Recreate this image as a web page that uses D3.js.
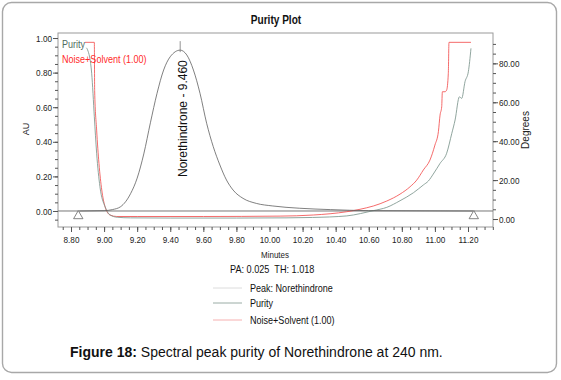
<!DOCTYPE html>
<html>
<head>
<meta charset="utf-8">
<script src="https://cdn.jsdelivr.net/npm/d3@7"></script>
<style>
  html, body { margin: 0; padding: 0; background: #fff; }
  svg { display: block; }
  text { font-family: "Liberation Sans", Arial, sans-serif; }
</style>
</head>
<body>
<svg id="chart" width="561" height="380"></svg>
<script>
// ---------------- data ----------------
const chartTitle = "Purity Plot";
const xTitle = "Minutes";
const yLeftTitle = "AU";
const yRightTitle = "Degrees";
const peakName = "Norethindrone";
const peakTime = 9.460;
const peakApex = 0.93;
const markerTimes = [8.844, 11.235];
const paText = "PA: 0.025  TH: 1.018";
const legendLabels = ["Peak: Norethindrone", "Purity", "Noise+Solvent (1.00)"];
const captionBold = "Figure 18:";
const captionText = " Spectral peak purity of Norethindrone at 240 nm.";

const xTickLabels = [8.80, 9.00, 9.20, 9.40, 9.60, 9.80, 10.00, 10.20, 10.40, 10.60, 10.80, 11.00, 11.20];
const auTickLabels = [0.00, 0.20, 0.40, 0.60, 0.80, 1.00];
const degTickLabels = [0, 20, 40, 60, 80];

// chromatogram (AU)
const chromTime = [8.85, 9.00, 9.05, 9.10, 9.16, 9.20, 9.24, 9.28, 9.32, 9.36, 9.40, 9.46, 9.50, 9.54, 9.58, 9.62, 9.66, 9.70, 9.74, 9.78, 9.84, 9.92, 10.02, 10.18, 10.37, 10.60, 11.23];
const chromAU   = [0.000, 0.002, 0.008, 0.025, 0.100, 0.190, 0.330, 0.510, 0.680, 0.815, 0.892, 0.930, 0.902, 0.815, 0.680, 0.507, 0.372, 0.266, 0.179, 0.121, 0.073, 0.044, 0.029, 0.016, 0.008, 0.002, 0.000];

// purity angle (degrees)
const purityTime = [8.893, 8.900, 8.925, 8.941, 8.955, 8.975, 9.006, 9.036, 9.080, 9.160, 9.400, 9.800, 10.100, 10.260, 10.467, 10.550, 10.628, 10.709, 10.789, 10.870, 10.930, 10.960, 10.990, 11.031, 11.071, 11.102, 11.122, 11.148, 11.162, 11.182, 11.202, 11.218];
const purityDeg  = [88.0, 87.0, 74.9, 52.6, 33.8, 16.6, 6.3, 2.1, 0.9, 0.6, 0.5, 0.5, 0.6, 0.8, 1.6, 2.8, 4.3, 6.0, 9.4, 13.5, 17.5, 19.5, 23.1, 28.6, 33.8, 44.0, 50.9, 62.8, 62.0, 70.6, 75.7, 87.7];

// noise + solvent threshold (degrees)
const noiseTime = [8.885, 8.941, 8.943, 8.955, 8.969, 8.986, 9.006, 9.036, 9.076, 9.200, 9.600, 10.064, 10.265, 10.467, 10.547, 10.628, 10.709, 10.789, 10.850, 10.890, 10.930, 10.970, 11.000, 11.021, 11.031, 11.041, 11.045, 11.061, 11.071, 11.081, 11.085, 11.218];
const noiseDeg  = [90.8, 90.8, 66.0, 45.7, 28.6, 14.9, 6.3, 2.06, 1.3, 1.3, 1.3, 1.5, 2.06, 3.75, 5.0, 6.7, 9.25, 12.8, 16.6, 20.0, 25.2, 30.3, 38.0, 44.9, 53.4, 57.7, 65.4, 65.4, 66.3, 74.9, 90.8, 90.8];

// ---------------- layout ----------------
const L = 58, R = 493, T = 33, B = 227;
const svg = d3.select("#chart");

// squeeze text horizontally to imitate the narrow font of the original
function condense(sel, f) {
  sel.each(function () {
    const w = this.getComputedTextLength();
    if (w > 0) d3.select(this).attr("textLength", w * f).attr("lengthAdjust", "spacingAndGlyphs");
  });
}

const x = d3.scaleLinear().domain([8.7214, 11.3511]).range([L, R]);
const yAU = d3.scaleLinear().domain([-0.0925, 1.029]).range([B, T]);
const yDeg = d3.scaleLinear().domain([-4.1, 95.6]).range([B, T]);

// outer frame
svg.append("rect").attr("x", 2.5).attr("y", 2.5).attr("width", 554).attr("height", 370)
  .attr("rx", 9).attr("fill", "#fff").attr("stroke", "#a8a8a8").attr("stroke-width", 1.4);

// title
svg.append("text").attr("x", 276).attr("y", 24)
  .attr("text-anchor", "middle").attr("font-size", 12).attr("font-weight", "bold")
  .attr("fill", "#111").text(chartTitle).call(condense, 0.84);

// plot frame
svg.append("rect").attr("x", L).attr("y", T).attr("width", R - L).attr("height", B - T)
  .attr("fill", "none").attr("stroke", "#9a9a9a").attr("stroke-width", 1);

// axes helpers
function styleAxis(g) {
  g.select(".domain").remove();
  g.selectAll("line").attr("stroke", "#555");
  g.selectAll("text").attr("font-size", 9.5).attr("fill", "#222").call(condense, 0.86);
}
const minorX = d3.range(8.75, 11.36, 0.05).map(v => +v.toFixed(2));
const minorAU = d3.range(-0.05, 1.001, 0.05).map(v => +v.toFixed(2));
const minorDeg = d3.range(0, 91, 5);

svg.append("g").attr("transform", `translate(0,${B})`)
  .call(d3.axisBottom(x).tickValues(minorX).tickSize(3).tickFormat(""))
  .call(styleAxis);
svg.append("g").attr("transform", `translate(0,${B})`)
  .call(d3.axisBottom(x).tickValues(xTickLabels).tickSize(5).tickPadding(4).tickFormat(d3.format(".2f")))
  .call(styleAxis);

svg.append("g").attr("transform", `translate(${L},0)`)
  .call(d3.axisLeft(yAU).tickValues(minorAU).tickSize(3).tickFormat(""))
  .call(styleAxis);
svg.append("g").attr("transform", `translate(${L},0)`)
  .call(d3.axisLeft(yAU).tickValues(auTickLabels).tickSize(5).tickPadding(1).tickFormat(d3.format(".2f")))
  .call(styleAxis);

svg.append("g").attr("transform", `translate(${R},0)`)
  .call(d3.axisRight(yDeg).tickValues(minorDeg).tickSize(3).tickFormat(""))
  .call(styleAxis);
svg.append("g").attr("transform", `translate(${R},0)`)
  .call(d3.axisRight(yDeg).tickValues(degTickLabels).tickSize(5).tickPadding(1).tickFormat(d3.format(".2f")))
  .call(styleAxis);

// axis titles
svg.append("text").attr("x", 275).attr("y", 258)
  .attr("text-anchor", "middle").attr("font-size", 9.5).attr("fill", "#222").text(xTitle)
  .call(condense, 0.84);
svg.append("text").attr("transform", "translate(29,129) rotate(-90)")
  .attr("text-anchor", "middle").attr("font-size", 9).attr("fill", "#222").text(yLeftTitle);
svg.append("text").attr("transform", "translate(529,130) rotate(-90)")
  .attr("text-anchor", "middle").attr("font-size", 10).attr("fill", "#222").text(yRightTitle);

// clip
svg.append("clipPath").attr("id", "clip").append("rect")
  .attr("x", L).attr("y", T).attr("width", R - L).attr("height", B - T);
const plot = svg.append("g").attr("clip-path", "url(#clip)");

// baseline at 0 AU
plot.append("line").attr("x1", L).attr("x2", R).attr("y1", yAU(0)).attr("y2", yAU(0))
  .attr("stroke", "#777").attr("stroke-width", 1);

// series
const chrom = chromTime.map((t, i) => [t, chromAU[i]]);
const purity = purityTime.map((t, i) => [t, purityDeg[i]]);
const noise = noiseTime.map((t, i) => [t, noiseDeg[i]]);

const lineAU = d3.line().x(d => x(d[0])).y(d => yAU(d[1])).curve(d3.curveMonotoneX);
const lineDeg = d3.line().x(d => x(d[0])).y(d => yDeg(d[1])).curve(d3.curveMonotoneX);

plot.append("path").datum(noise).attr("d", lineDeg)
  .attr("fill", "none").attr("stroke", "#f25050").attr("stroke-width", 0.85);
plot.append("path").datum(purity).attr("d", lineDeg)
  .attr("fill", "none").attr("stroke", "#7c958c").attr("stroke-width", 0.85);
plot.append("path").datum(chrom).attr("d", lineAU)
  .attr("fill", "none").attr("stroke", "#555").attr("stroke-width", 0.75);

// peak marker
plot.append("line").attr("x1", x(peakTime)).attr("x2", x(peakTime))
  .attr("y1", yAU(peakApex) - 9).attr("y2", yAU(peakApex) + 2)
  .attr("stroke", "#777").attr("stroke-width", 0.8);
svg.append("text")
  .attr("transform", `translate(${x(peakTime) + 6.5},177) rotate(-90)`)
  .attr("font-size", 12).attr("fill", "#111")
  .text(`${peakName} - ${d3.format(".3f")(peakTime)}`);

// integration markers (triangles)
const tri = d3.symbol().type(d3.symbolTriangle).size(38);
plot.selectAll(".tri").data(markerTimes).join("path")
  .attr("transform", d => `translate(${x(d)},${yAU(0) + 5})`)
  .attr("d", tri).attr("fill", "#fff").attr("stroke", "#666").attr("stroke-width", 0.8);

// in-plot legend
svg.append("text").attr("x", 62).attr("y", 48)
  .attr("font-size", 10.5).attr("fill", "#4f6c60").text("Purity").call(condense, 0.86);
svg.append("text").attr("x", 62).attr("y", 63)
  .attr("font-size", 10.5).attr("fill", "#ff2a2a").text("Noise+Solvent (1.00)").call(condense, 0.86);

// PA / TH
svg.append("text").attr("x", 230).attr("y", 273)
  .attr("font-size", 11).attr("fill", "#111").attr("xml:space", "preserve").text(paText)
  .call(condense, 0.83);

// bottom legend
const legColors = ["#dcdcdc", "#9aaca5", "#f6b0b0"];
const legY = [292, 307, 324];
legendLabels.forEach((lab, i) => {
  svg.append("line").attr("x1", 213).attr("x2", 242)
    .attr("y1", legY[i] - 4).attr("y2", legY[i] - 4)
    .attr("stroke", legColors[i]).attr("stroke-width", 1);
  svg.append("text").attr("x", 250).attr("y", legY[i])
    .attr("font-size", 10.5).attr("fill", "#111").text(lab).call(condense, 0.86);
});

// caption
const cap = svg.append("text").attr("x", 70).attr("y", 357)
  .attr("font-size", 14).attr("fill", "#111");
cap.append("tspan").attr("font-weight", "bold").text(captionBold);
cap.append("tspan").attr("xml:space", "preserve").text(captionText);
</script>
</body>
</html>
